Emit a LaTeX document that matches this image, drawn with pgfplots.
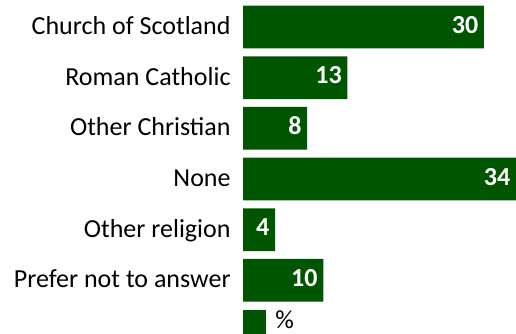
\documentclass[border=0pt]{standalone}
\usepackage{pgfplots}
\pgfplotsset{compat=1.18}
\usepackage{fontspec}
\setmainfont{Carlito}
\definecolor{bargreen}{RGB}{0,85,0}
\begin{document}
\begin{tikzpicture}
\begin{axis}[
  at={(243bp,0bp)}, anchor=south west,
  scale only axis,
  width=273bp, height=334bp,
  xmin=0, xmax=34,
  ymin=-0.533, ymax=6.059,
  y dir=reverse,
  xbar,
  bar width=42.7bp,
  axis line style={draw=none},
  tick style={draw=none},
  xtick=\empty,
  /pgf/number format/assume math mode=true,
  ytick={0,1,2,3,4,5},
  yticklabels={Church of Scotland,Roman Catholic,Other Christian,None,Other religion,Prefer not to answer},
  yticklabel style={anchor=base east, inner sep=0pt, xshift=-8bp, yshift=-7.5bp,
    font=\fontsize{26.1}{32}\selectfont, text=black},
  nodes near coords,
  nodes near coords style={anchor=base east, inner sep=0pt, xshift=-5.5bp, yshift=-6bp,
    text=white, font=\fontsize{26.1}{32}\selectfont\bfseries},
]
\addplot[fill=bargreen, draw=none, bar shift=0pt] coordinates {
  (30,0) (13,1) (8,2) (34,3) (4,4) (10,5)
};
\addplot[fill=bargreen, draw=none, bar shift=0pt, nodes near coords=\empty] coordinates {
  (2.9,6)
};
\node[anchor=west, inner sep=0pt, xshift=9bp, font=\fontsize{26.1}{32}\selectfont] at (axis cs:2.9,5.78) {\%};
\end{axis}
\pgfresetboundingbox
\path[use as bounding box] (0,0) rectangle (516bp,334bp);
\end{tikzpicture}
\end{document}
